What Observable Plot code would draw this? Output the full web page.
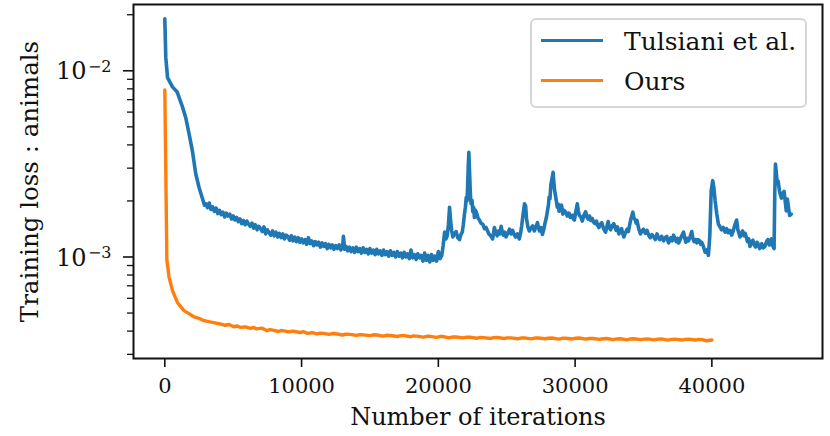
<!DOCTYPE html>
<html>
<head>
<meta charset="utf-8">
<script src="https://cdn.jsdelivr.net/npm/d3@7"></script>
<script src="https://cdn.jsdelivr.net/npm/@observablehq/plot@0.6"></script>
<style>
  html, body { margin: 0; padding: 0; background: white; }
  #wrap { position: relative; width: 830px; height: 436px; font-family: "DejaVu Serif", serif; }
  #legend { position: absolute; left: 530px; top: 18px; width: 273px; height: 86px;
            border: 2px solid #d6d6d6; border-radius: 6px; background: rgba(255,255,255,0.85); }
  .lg-line { position: absolute; left: 9px; width: 62px; height: 3.5px; }
  .lg-text { position: absolute; left: 92px; font-family: "DejaVu Serif", serif; font-size: 25px; line-height: 25px; color: #111; white-space: nowrap; }
</style>
</head>
<body>
<div id="wrap"></div>
<script>
// ---- data ----
const seriesNames = ["Tulsiani et al.", "Ours"];
const seriesColors = ["#1f77b4", "#ff7f0e"];

// Tulsiani et al.: [iteration, training loss]
const blueSeries = [
  [0, 19.0e-3], [70, 11.8e-3], [200, 9.2e-3], [560, 8.2e-3], [900, 7.7e-3], [1290, 6.4e-3], [1530, 5.6e-3], [1770, 4.6e-3],
  [2020, 3.7e-3], [2260, 2.8e-3], [2500, 2.37e-3], [2750, 2.06e-3], [2900, 1.90e-3],
  [3000, 1.93e-3], [3125, 1.84e-3], [3250, 1.95e-3], [3375, 1.80e-3], [3500, 1.86e-3], [3625, 1.76e-3], [3750, 1.83e-3], [3875, 1.71e-3],
  [4000, 1.78e-3], [4125, 1.69e-3], [4250, 1.74e-3], [4375, 1.64e-3], [4500, 1.72e-3], [4625, 1.66e-3], [4750, 1.70e-3], [4875, 1.60e-3],
  [5000, 1.66e-3], [5125, 1.58e-3], [5250, 1.63e-3], [5375, 1.55e-3], [5500, 1.60e-3], [5625, 1.51e-3], [5750, 1.57e-3], [5875, 1.49e-3],
  [6000, 1.56e-3], [6125, 1.50e-3], [6250, 1.46e-3], [6375, 1.52e-3], [6500, 1.43e-3], [6625, 1.49e-3], [6750, 1.40e-3], [6875, 1.46e-3],
  [7000, 1.42e-3], [7125, 1.37e-3], [7250, 1.45e-3], [7375, 1.33e-3], [7500, 1.40e-3], [7625, 1.35e-3], [7750, 1.31e-3], [7875, 1.38e-3],
  [8000, 1.30e-3], [8125, 1.36e-3], [8250, 1.28e-3], [8375, 1.34e-3], [8500, 1.27e-3], [8625, 1.33e-3], [8750, 1.25e-3], [8875, 1.31e-3],
  [9000, 1.29e-3], [9125, 1.23e-3], [9250, 1.30e-3], [9375, 1.22e-3], [9500, 1.28e-3], [9625, 1.21e-3], [9750, 1.27e-3], [9875, 1.20e-3],
  [10000, 1.25e-3], [10125, 1.19e-3], [10250, 1.24e-3], [10375, 1.17e-3], [10500, 1.27e-3], [10625, 1.18e-3], [10750, 1.22e-3], [10875, 1.15e-3],
  [11000, 1.21e-3], [11125, 1.16e-3], [11250, 1.20e-3], [11375, 1.13e-3], [11500, 1.19e-3], [11625, 1.14e-3], [11750, 1.18e-3], [11875, 1.11e-3],
  [12000, 1.17e-3], [12125, 1.12e-3], [12250, 1.16e-3], [12375, 1.10e-3], [12500, 1.15e-3], [12625, 1.11e-3], [12750, 1.16e-3], [12875, 1.09e-3],
  [13000, 1.14e-3], [13060, 1.29e-3], [13150, 1.10e-3], [13250, 1.14e-3], [13375, 1.08e-3], [13500, 1.13e-3], [13625, 1.07e-3], [13750, 1.12e-3],
  [13875, 1.06e-3], [14000, 1.13e-3], [14125, 1.07e-3], [14250, 1.11e-3], [14375, 1.05e-3], [14500, 1.12e-3], [14625, 1.06e-3], [14750, 1.10e-3],
  [14875, 1.04e-3], [15000, 1.11e-3], [15125, 1.05e-3], [15250, 1.09e-3], [15375, 1.03e-3], [15500, 1.10e-3], [15625, 1.04e-3], [15750, 1.08e-3],
  [15875, 1.02e-3], [16000, 1.09e-3], [16125, 1.03e-3], [16250, 1.07e-3], [16375, 1.01e-3], [16500, 1.08e-3], [16625, 1.02e-3], [16750, 1.06e-3],
  [16875, 1.00e-3], [17000, 1.07e-3], [17125, 1.01e-3], [17250, 1.05e-3], [17375, 0.99e-3], [17500, 1.06e-3], [17625, 1.00e-3], [17750, 1.04e-3],
  [17875, 0.98e-3], [18000, 1.09e-3], [18125, 0.99e-3], [18250, 1.03e-3], [18375, 0.97e-3], [18500, 1.04e-3], [18625, 0.99e-3], [18750, 1.02e-3],
  [18875, 0.95e-3], [19000, 1.05e-3], [19125, 0.96e-3], [19250, 1.02e-3], [19375, 0.94e-3], [19500, 1.03e-3], [19625, 0.96e-3], [19750, 1.01e-3],
  [19875, 0.95e-3], [20000, 1.07e-3], [20125, 0.98e-3], [20250, 1.02e-3],
  [20350, 1.15e-3], [20460, 1.36e-3], [20560, 1.25e-3], [20650, 1.30e-3], [20740, 1.50e-3], [20820, 1.85e-3], [20900, 1.55e-3], [20980, 1.38e-3],
  [21060, 1.28e-3], [21180, 1.33e-3], [21300, 1.37e-3], [21420, 1.27e-3], [21550, 1.24e-3], [21650, 1.32e-3], [21750, 1.36e-3], [21830, 1.50e-3],
  [21910, 1.70e-3], [21980, 1.85e-3], [22040, 2.09e-3], [22100, 2.00e-3], [22150, 2.50e-3], [22190, 3.10e-3], [22230, 3.65e-3], [22280, 2.90e-3],
  [22320, 2.40e-3], [22360, 2.05e-3], [22400, 1.93e-3], [22460, 2.02e-3], [22520, 1.75e-3], [22580, 1.85e-3], [22640, 1.63e-3], [22720, 1.78e-3],
  [22800, 1.72e-3], [22900, 1.62e-3], [23000, 1.58e-3], [23120, 1.52e-3], [23250, 1.50e-3], [23370, 1.42e-3], [23490, 1.44e-3], [23600, 1.38e-3],
  [23700, 1.33e-3], [23830, 1.30e-3], [23970, 1.25e-3], [24100, 1.44e-3], [24200, 1.35e-3], [24300, 1.30e-3], [24420, 1.38e-3], [24500, 1.33e-3],
  [24590, 1.46e-3], [24680, 1.36e-3], [24750, 1.31e-3], [24850, 1.36e-3], [24950, 1.28e-3], [25080, 1.34e-3], [25200, 1.41e-3], [25320, 1.33e-3],
  [25430, 1.39e-3], [25540, 1.32e-3], [25650, 1.28e-3], [25780, 1.33e-3], [25920, 1.25e-3], [26020, 1.35e-3], [26100, 1.48e-3], [26200, 1.70e-3],
  [26300, 1.93e-3], [26380, 1.88e-3], [26450, 1.60e-3], [26550, 1.45e-3], [26650, 1.38e-3], [26780, 1.43e-3], [26900, 1.47e-3], [27020, 1.38e-3],
  [27130, 1.45e-3], [27250, 1.53e-3], [27330, 1.42e-3], [27400, 1.38e-3], [27500, 1.44e-3], [27610, 1.32e-3], [27700, 1.40e-3], [27800, 1.52e-3],
  [27900, 1.63e-3], [27980, 1.77e-3], [28050, 1.90e-3], [28100, 2.10e-3], [28160, 2.05e-3], [28230, 2.45e-3], [28300, 2.60e-3], [28390, 2.85e-3],
  [28440, 2.55e-3], [28500, 2.28e-3], [28590, 2.09e-3], [28650, 1.95e-3], [28700, 1.85e-3], [28770, 1.92e-3], [28830, 1.76e-3], [28920, 1.83e-3],
  [29000, 1.90e-3], [29100, 1.70e-3], [29200, 1.78e-3], [29320, 1.74e-3], [29430, 1.66e-3], [29550, 1.72e-3], [29650, 1.63e-3], [29800, 1.68e-3],
  [29880, 1.60e-3], [29950, 1.58e-3], [30050, 1.75e-3], [30160, 1.93e-3], [30230, 1.78e-3], [30300, 1.68e-3], [30420, 1.64e-3], [30525, 1.56e-3],
  [30650, 1.68e-3], [30770, 1.75e-3], [30860, 1.64e-3], [30950, 1.60e-3], [31050, 1.66e-3], [31150, 1.57e-3], [31250, 1.61e-3], [31350, 1.54e-3],
  [31450, 1.51e-3], [31560, 1.56e-3], [31650, 1.48e-3], [31740, 1.44e-3], [31850, 1.50e-3], [31950, 1.53e-3], [32080, 1.42e-3], [32230, 1.36e-3],
  [32320, 1.45e-3], [32420, 1.55e-3], [32510, 1.43e-3], [32600, 1.40e-3], [32700, 1.47e-3], [32830, 1.51e-3], [32920, 1.44e-3], [33000, 1.39e-3],
  [33100, 1.45e-3], [33200, 1.33e-3], [33300, 1.38e-3], [33400, 1.42e-3], [33480, 1.34e-3], [33560, 1.28e-3], [33680, 1.35e-3], [33800, 1.41e-3],
  [33900, 1.37e-3], [34000, 1.50e-3], [34100, 1.62e-3], [34220, 1.74e-3], [34300, 1.62e-3], [34400, 1.58e-3], [34470, 1.52e-3], [34530, 1.57e-3],
  [34650, 1.42e-3], [34780, 1.33e-3], [34880, 1.38e-3], [35000, 1.41e-3], [35130, 1.34e-3], [35260, 1.39e-3], [35380, 1.31e-3], [35500, 1.27e-3],
  [35620, 1.32e-3], [35750, 1.28e-3], [35870, 1.24e-3], [35990, 1.33e-3], [36100, 1.27e-3], [36200, 1.24e-3], [36330, 1.29e-3], [36470, 1.22e-3],
  [36580, 1.27e-3], [36700, 1.29e-3], [36770, 1.23e-3], [36840, 1.19e-3], [36920, 1.25e-3], [37000, 1.27e-3], [37100, 1.22e-3], [37200, 1.31e-3],
  [37300, 1.25e-3], [37400, 1.21e-3], [37480, 1.26e-3], [37570, 1.19e-3], [37660, 1.23e-3], [37750, 1.28e-3], [37840, 1.32e-3], [37930, 1.36e-3],
  [38010, 1.27e-3], [38100, 1.20e-3], [38200, 1.26e-3], [38290, 1.22e-3], [38400, 1.28e-3], [38530, 1.37e-3], [38610, 1.26e-3], [38700, 1.21e-3],
  [38800, 1.24e-3], [38900, 1.19e-3], [39000, 1.24e-3], [39100, 1.22e-3], [39180, 1.17e-3], [39260, 1.20e-3], [39380, 1.14e-3], [39510, 1.06e-3],
  [39630, 1.09e-3], [39750, 1.02e-3], [39850, 1.30e-3], [39950, 2.27e-3], [40060, 2.57e-3], [40150, 2.35e-3], [40240, 2.00e-3], [40360, 1.70e-3],
  [40480, 1.50e-3], [40600, 1.45e-3], [40700, 1.40e-3], [40830, 1.44e-3], [40970, 1.36e-3], [41080, 1.42e-3], [41200, 1.35e-3], [41330, 1.39e-3],
  [41450, 1.31e-3], [41560, 1.38e-3], [41650, 1.46e-3], [41730, 1.52e-3], [41810, 1.58e-3], [41900, 1.40e-3], [42060, 1.28e-3], [42150, 1.34e-3],
  [42250, 1.38e-3], [42340, 1.30e-3], [42430, 1.34e-3], [42520, 1.28e-3], [42600, 1.21e-3], [42700, 1.25e-3], [42790, 1.14e-3], [42900, 1.20e-3],
  [43000, 1.23e-3], [43100, 1.16e-3], [43200, 1.13e-3], [43300, 1.20e-3], [43390, 1.17e-3], [43500, 1.11e-3], [43650, 1.18e-3], [43760, 1.12e-3],
  [43880, 1.14e-3], [44000, 1.21e-3], [44100, 1.24e-3], [44200, 1.16e-3], [44300, 1.21e-3], [44360, 1.25e-3], [44450, 1.15e-3], [44550, 1.11e-3],
  [44600, 2.20e-3], [44650, 3.16e-3], [44720, 2.80e-3], [44780, 2.47e-3], [44850, 2.55e-3], [44950, 2.25e-3], [45080, 2.07e-3], [45180, 2.18e-3],
  [45280, 2.25e-3], [45360, 2.00e-3], [45440, 1.77e-3], [45520, 2.05e-3], [45600, 1.85e-3], [45690, 1.67e-3], [45800, 1.70e-3]
];

// Ours: [iteration, training loss]
const orangeSeries = [
  [0, 7.9e-3], [150, 0.96e-3], [310, 0.78e-3], [560, 0.66e-3], [920, 0.57e-3], [1400, 0.515e-3], [1800, 0.495e-3], [2130, 0.477e-3],
  [2500, 0.468e-3], [2860, 0.455e-3], [3300, 0.448e-3], [3840, 0.440e-3], [4100, 0.436e-3], [4400, 0.430e-3], [4700, 0.434e-3], [5050, 0.422e-3],
  [5300, 0.426e-3], [5500, 0.419e-3], [5900, 0.421e-3], [6260, 0.414e-3], [6500, 0.418e-3], [6700, 0.411e-3], [7100, 0.415e-3], [7480, 0.402e-3],
  [7700, 0.407e-3], [7900, 0.405e-3], [8300, 0.398e-3], [8500, 0.403e-3], [8690, 0.401e-3], [9100, 0.396e-3], [9300, 0.400e-3], [9500, 0.398e-3],
  [9900, 0.393e-3], [10150, 0.397e-3], [10400, 0.389e-3], [10800, 0.392e-3], [11120, 0.386e-3], [11350, 0.390e-3], [11600, 0.389e-3], [12000, 0.384e-3],
  [12250, 0.388e-3], [12500, 0.387e-3], [13000, 0.381e-3], [13250, 0.385e-3], [13550, 0.384e-3], [14000, 0.379e-3], [14250, 0.383e-3], [14500, 0.382e-3],
  [15000, 0.378e-3], [15250, 0.382e-3], [15500, 0.381e-3], [15970, 0.376e-3], [16250, 0.380e-3], [16500, 0.379e-3], [17000, 0.374e-3], [17250, 0.378e-3],
  [17500, 0.378e-3], [18000, 0.373e-3], [18200, 0.377e-3], [18400, 0.376e-3], [18900, 0.371e-3], [19150, 0.375e-3], [19400, 0.375e-3], [19860, 0.370e-3],
  [20100, 0.374e-3], [20300, 0.374e-3], [20800, 0.368e-3], [21050, 0.372e-3], [21300, 0.372e-3], [21800, 0.368e-3], [22050, 0.371e-3], [22300, 0.371e-3],
  [22800, 0.366e-3], [23050, 0.370e-3], [23300, 0.369e-3], [23800, 0.365e-3], [24050, 0.369e-3], [24300, 0.370e-3], [24800, 0.365e-3], [25050, 0.368e-3],
  [25300, 0.368e-3], [25800, 0.364e-3], [26050, 0.367e-3], [26300, 0.368e-3], [26800, 0.363e-3], [27050, 0.367e-3], [27300, 0.367e-3], [27800, 0.364e-3],
  [28050, 0.366e-3], [28300, 0.367e-3], [28800, 0.362e-3], [29050, 0.366e-3], [29300, 0.366e-3], [29800, 0.363e-3], [30050, 0.366e-3], [30300, 0.367e-3],
  [30800, 0.362e-3], [31050, 0.365e-3], [31300, 0.365e-3], [31800, 0.361e-3], [32050, 0.364e-3], [32300, 0.365e-3], [32800, 0.360e-3], [33050, 0.363e-3],
  [33300, 0.364e-3], [33800, 0.359e-3], [34050, 0.363e-3], [34300, 0.364e-3], [34800, 0.360e-3], [35050, 0.362e-3], [35300, 0.363e-3], [35800, 0.359e-3],
  [36050, 0.362e-3], [36300, 0.363e-3], [36800, 0.358e-3], [37050, 0.361e-3], [37300, 0.362e-3], [37800, 0.358e-3], [38050, 0.361e-3], [38300, 0.362e-3],
  [38800, 0.358e-3], [39050, 0.361e-3], [39300, 0.360e-3], [39600, 0.355e-3], [40000, 0.358e-3]
];

const xTicks = [0, 10000, 20000, 30000, 40000];
const yMajorTicks = [0.001, 0.01];
const yMantissa = "10";
const yExponents = ["−3", "−2"];
const yMinorTicks = [0.0003, 0.0004, 0.0005, 0.0006, 0.0007, 0.0008, 0.0009,
                     0.002, 0.003, 0.004, 0.005, 0.006, 0.007, 0.008, 0.009, 0.02];
const xLabel = "Number of iterations";
const yLabel = "Training loss : animals";

// ---- build ----
const blue = blueSeries.map(([iter, loss]) => ({iter, loss}));
const orange = orangeSeries.map(([iter, loss]) => ({iter, loss}));

const chart = Plot.plot({
  width: 830,
  height: 436,
  marginLeft: 133,
  marginRight: 8,
  marginTop: 4,
  marginBottom: 78,
  style: {fontFamily: "DejaVu Serif", fontSize: "21px", background: "white", color: "#111"},
  x: {domain: [-2290, 48090]},
  y: {type: "log", domain: [0.000285, 0.0227]},
  marks: [
    Plot.line(blue, {x: "iter", y: "loss", stroke: seriesColors[0], strokeWidth: 3.6, strokeLinejoin: "round"}),
    Plot.line(orange, {x: "iter", y: "loss", stroke: seriesColors[1], strokeWidth: 3.4, strokeLinejoin: "round"}),
    Plot.frame({stroke: "#111", strokeWidth: 2}),
    Plot.axisX({ticks: xTicks, tickSize: 9, tickPadding: 11, tickFormat: d => String(d), label: null, strokeWidth: 1.6, fontSize: 21}),
    Plot.axisY({ticks: yMinorTicks, tickSize: 6, tickFormat: () => "", label: null, strokeWidth: 1.3}),
    Plot.axisY({ticks: yMajorTicks, tickSize: 10, tickFormat: () => "", label: null, strokeWidth: 1.6}),
    Plot.text(yMajorTicks, {y: d => d, text: () => yMantissa, frameAnchor: "left", textAnchor: "end", dx: -47, dy: 1, fontSize: 24}),
    Plot.text(yMajorTicks, {y: d => d, text: (d, i) => yExponents[i], frameAnchor: "left", textAnchor: "end", dx: -22, dy: -4, fontSize: 16}),
    Plot.text([xLabel], {frameAnchor: "bottom", dy: 66, fontSize: 24}),
    Plot.text([yLabel], {frameAnchor: "left", textAnchor: "middle", dx: -103, rotate: -90, fontSize: 24.5})
  ]
});

const wrap = document.getElementById("wrap");
wrap.appendChild(chart);

const legend = document.createElement("div");
legend.id = "legend";
seriesNames.forEach((name, i) => {
  const ln = document.createElement("div");
  ln.className = "lg-line";
  ln.style.background = seriesColors[i];
  ln.style.top = (20.5 + 40 * i - 1.75) + "px";
  legend.appendChild(ln);
  const tx = document.createElement("div");
  tx.className = "lg-text";
  tx.textContent = name;
  tx.style.top = (21.5 + 40 * i - 12.5) + "px";
  legend.appendChild(tx);
});
wrap.appendChild(legend);
</script>
</body>
</html>
